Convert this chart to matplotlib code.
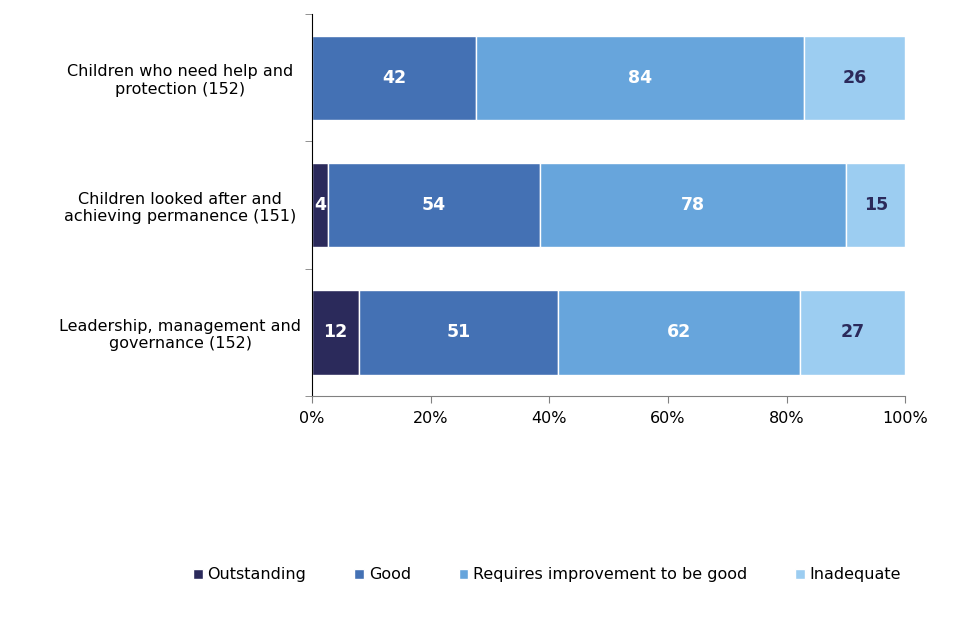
import numpy as np
import matplotlib.pyplot as plt
from matplotlib.ticker import FixedLocator, PercentFormatter

categories = [
    "Children who need help and\nprotection (152)",
    "Children looked after and\nachieving permanence (151)",
    "Leadership, management and\ngovernance (152)",
]
outstanding = [0, 4, 12]
good = [42, 54, 51]
requires_improvement = [84, 78, 62]
inadequate = [26, 15, 27]

series = ["Outstanding", "Good", "Requires improvement to be good", "Inadequate"]
colors = ["#2b2a5b", "#4471b4", "#67a5dc", "#9ccdf1"]
text_colors = ["white", "white", "white", "#2b2a5b"]

counts = np.array([outstanding, good, requires_improvement, inadequate], dtype=float)
totals = counts.sum(axis=0)
shares = counts / totals * 100

plt.rcParams["font.family"] = "DejaVu Sans"

fig = plt.figure(figsize=(9.6, 6.4), dpi=100)
ax = fig.add_axes([0.325, 0.381, 0.618, 0.597])

y = np.arange(len(categories))
left = np.zeros(len(categories))
for i, name in enumerate(series):
    bars = ax.barh(y, shares[i], left=left, height=0.66, color=colors[i],
                   edgecolor="white", linewidth=1, label=name)
    for j, bar in enumerate(bars):
        if counts[i, j] > 0:
            ax.text(left[j] + shares[i, j] / 2, y[j], f"{int(counts[i, j])}",
                    ha="center", va="center", color=text_colors[i],
                    fontsize=12.5, fontweight="bold")
    left += shares[i]

ax.set_xlim(0, 100)
ax.set_ylim(2.5, -0.5)
ax.set_xticks([0, 20, 40, 60, 80, 100])
ax.xaxis.set_major_formatter(PercentFormatter(decimals=0))
ax.set_yticks(y)
ax.set_yticklabels(categories, fontsize=11.5, ha="center")
ax.yaxis.set_minor_locator(FixedLocator([-0.5, 0.5, 1.5, 2.5]))
ax.tick_params(axis="y", which="major", length=0, pad=95)
ax.tick_params(axis="y", which="minor", length=5, color="#808080")
ax.tick_params(axis="x", length=5, color="#808080", labelsize=11.5, pad=6)

for s in ["top", "right"]:
    ax.spines[s].set_visible(False)
ax.spines["left"].set_color("black")
ax.spines["bottom"].set_color("#808080")

handles, labels = ax.get_legend_handles_labels()
fig.legend(handles, labels, loc="center", bbox_to_anchor=(0.57, 0.102), ncol=4,
           frameon=False, fontsize=11.5, handlelength=0.6, handleheight=0.6,
           handletextpad=0.3, columnspacing=3.0)

fig.savefig("out.png", dpi=100)
